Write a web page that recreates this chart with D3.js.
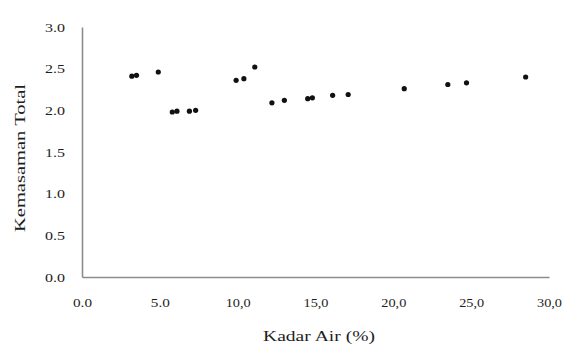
<!DOCTYPE html>
<html>
<head>
<meta charset="utf-8">
<script src="https://cdn.jsdelivr.net/npm/d3@7"></script>
<style>
  html, body { margin: 0; padding: 0; background: #fff; }
  svg { display: block; }
  text { font-family: "Liberation Serif", "Times New Roman", serif; fill: #1e1e1e; }
</style>
</head>
<body>
<svg id="chart" width="568" height="347"></svg>
<script>
// Moisture content (%) against total acidity
const kadarAir = [3.2, 3.5, 4.9, 5.8, 6.1, 6.9, 7.3, 9.9, 10.4, 11.1, 12.2, 13.0, 14.5, 14.8, 16.1, 17.1, 20.7, 23.5, 24.7, 28.5];
const kemasaman = [2.41, 2.42, 2.46, 1.98, 1.99, 1.99, 2.00, 2.36, 2.38, 2.52, 2.09, 2.12, 2.14, 2.15, 2.18, 2.19, 2.26, 2.31, 2.33, 2.40];

const xTickValues = [0, 5, 10, 15, 20, 25, 30];
const xTickLabels = ["0.0", "5.0", "10,0", "15,0", "20,0", "25,0", "30,0"];
const yTickValues = [0, 0.5, 1, 1.5, 2, 2.5, 3];
const yTickLabels = ["0.0", "0.5", "1.0", "1.5", "2.0", "2.5", "3.0"];

const xTitle = "Kadar Air (%)";
const yTitle = "Kemasaman Total";

const svg = d3.select("#chart");
const plotLeft = 82, plotRight = 549, plotTop = 27, plotBottom = 277;

const x = d3.scaleLinear().domain([0, 30]).range([plotLeft, plotRight]);
const y = d3.scaleLinear().domain([0, 3]).range([plotBottom, plotTop]);

// x axis
const gx = svg.append("g")
  .attr("transform", `translate(0,${plotBottom})`)
  .call(d3.axisBottom(x)
    .tickValues(xTickValues)
    .tickFormat((d, i) => xTickLabels[i])
    .tickSize(0)
    .tickPadding(21));
gx.select(".domain").attr("stroke", "#8c8c8c").attr("stroke-width", 1.6);
gx.selectAll("text")
  .attr("font-size", 12.5)
  .attr("font-family", "Liberation Serif")
  .attr("fill", "#1e1e1e")
  .attr("textLength", (d, i) => xTickLabels[i].length > 3 ? 25 : 19)
  .attr("lengthAdjust", "spacingAndGlyphs");

// y axis
const gy = svg.append("g")
  .attr("transform", `translate(${plotLeft},0)`)
  .call(d3.axisLeft(y)
    .tickValues(yTickValues)
    .tickFormat((d, i) => yTickLabels[i])
    .tickSize(0)
    .tickPadding(17));
gy.select(".domain").attr("stroke", "#8c8c8c").attr("stroke-width", 1.6);
gy.selectAll("text")
  .attr("font-size", 12.5)
  .attr("font-family", "Liberation Serif")
  .attr("fill", "#1e1e1e")
  .attr("textLength", 20)
  .attr("lengthAdjust", "spacingAndGlyphs");

// points
svg.append("g")
  .selectAll("circle")
  .data(kadarAir.map((v, i) => [v, kemasaman[i]]))
  .join("circle")
  .attr("cx", d => x(d[0]))
  .attr("cy", d => y(d[1]))
  .attr("r", 2.6)
  .attr("fill", "#111");

// axis titles
svg.append("text")
  .attr("x", 319)
  .attr("y", 341)
  .attr("text-anchor", "middle")
  .attr("font-size", 14)
  .attr("textLength", 112)
  .attr("lengthAdjust", "spacingAndGlyphs")
  .text(xTitle);

svg.append("text")
  .attr("transform", "translate(25,158) rotate(-90)")
  .attr("text-anchor", "middle")
  .attr("font-size", 14.5)
  .attr("textLength", 148)
  .attr("lengthAdjust", "spacingAndGlyphs")
  .text(yTitle);
</script>
</body>
</html>
